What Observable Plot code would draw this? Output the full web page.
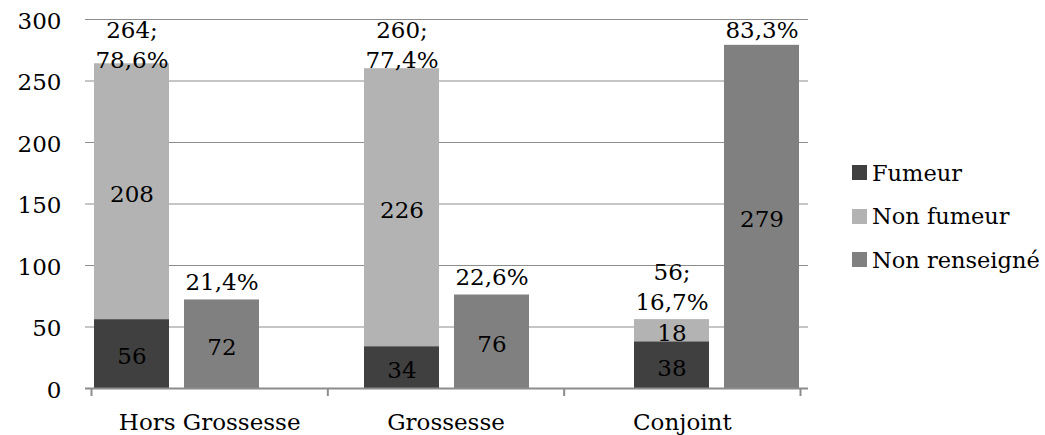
<!DOCTYPE html>
<html>
<head>
<meta charset="utf-8">
<script src="https://cdn.jsdelivr.net/npm/d3@7"></script>
<script src="https://cdn.jsdelivr.net/npm/@observablehq/plot@0.6"></script>
<style>
  html, body { margin: 0; padding: 0; background: #fff; }
  #chart { position: relative; width: 1045px; height: 435px; font-family: "DejaVu Serif", serif; }
  #chart > svg { position: absolute; left: 0; top: 0; }
  .legend { position: absolute; left: 852px; top: 151px; font: 22.5px "DejaVu Serif", serif; color: #000; }
  .legend .row { display: flex; align-items: center; height: 43.5px; }
  .legend .sw { width: 15px; height: 15px; margin-right: 5px; }
</style>
</head>
<body>
<div id="chart"></div>
<script>
// ---- data ----
const groups = ["Hors Grossesse", "Grossesse", "Conjoint"];
const series = ["Fumeur", "Non fumeur", "Non renseigné"];
const colors = ["#404040", "#b3b3b3", "#808080"];
const fumeur = [56, 34, 38];
const nonFumeur = [208, 226, 18];
const nonRenseigne = [72, 76, 279];
const totalRenseigne = [264, 260, 56];
const pctRenseigne = ["78,6%", "77,4%", "16,7%"];
const pctNonRenseigne = ["21,4%", "22,6%", "83,3%"];
const yTicks = [0, 50, 100, 150, 200, 250, 300];

// ---- derived tables ----
const slots = [];
groups.forEach((g, i) => {
  slots.push(g + "|A", g + "|B");
  if (i < groups.length - 1) slots.push("gap" + i);
});
const rows = [];
groups.forEach((g, i) => {
  rows.push({slot: g + "|A", series: series[0], value: fumeur[i]});
  rows.push({slot: g + "|A", series: series[1], value: nonFumeur[i]});
  rows.push({slot: g + "|B", series: series[2], value: nonRenseigne[i]});
});
const yMax = 300;
const topLabels = [];
groups.forEach((g, i) => {
  topLabels.push({slot: g + "|A", y: totalRenseigne[i], text: totalRenseigne[i] + ";\n" + pctRenseigne[i], lines: 2});
  topLabels.push({slot: g + "|B", y: nonRenseigne[i], text: pctNonRenseigne[i], lines: 1});
});
const fits = d => d.y + d.lines * 24 <= yMax;
const labelsAbove = topLabels.filter(fits);
const labelsClamped = topLabels.filter(d => !fits(d)).map(d => ({...d, y: yMax}));

const W = 1045, H = 435;
const font = "DejaVu Serif";
const fs = 23;

const main = Plot.plot({
  width: W, height: H,
  marginLeft: 85, marginRight: 237, marginTop: 19, marginBottom: 47,
  style: {fontFamily: font, fontSize: fs + "px", background: "transparent", color: "#000"},
  x: {type: "band", domain: slots, paddingInner: 0.171, paddingOuter: 0.083, axis: null},
  y: {domain: [0, yMax], ticks: yTicks},
  color: {domain: series, range: colors},
  marks: [
    Plot.ruleY(yTicks.filter(t => t > 0), {stroke: "#8c8c8c", strokeWidth: 1}),
    Plot.axisY({ticks: yTicks, tickSize: 0, tickPadding: 24, line: true, stroke: "#8c8c8c", strokeWidth: 2, fontSize: fs, label: null, tickFormat: d => String(d), dy: 2}),
    Plot.barY(rows, {x: "slot", y: "value", fill: "series", z: "series", order: series}),
    Plot.text(rows, Plot.stackY({x: "slot", y: "value", z: "series", text: d => String(d.value), order: series, fontSize: fs, fill: "#000", dy: 3})),
    Plot.text(labelsAbove, {x: "slot", y: "y", text: "text", lineAnchor: "bottom", lineHeight: 1.3, dy: -10, fontSize: fs, fill: "#000"}),
    Plot.text(labelsClamped, {x: "slot", y: "y", text: "text", lineAnchor: "top", lineHeight: 1.3, dy: -3, fontSize: fs, fill: "#000"}),
    Plot.ruleY([0], {stroke: "#8c8c8c", strokeWidth: 2})
  ]
});

const groupIdx = groups.map((g, i) => ({i, g}));
const overlay = Plot.plot({
  width: W, height: H,
  marginLeft: 91, marginRight: 245, marginTop: 19, marginBottom: 47,
  style: {fontFamily: font, fontSize: fs + "px", background: "transparent", color: "#000", pointerEvents: "none"},
  x: {type: "linear", domain: [0, groups.length], axis: null},
  marks: [
    Plot.axisX({ticks: d3.range(groups.length + 1), tickSize: 8, tickFormat: () => "", stroke: "#8c8c8c", strokeWidth: 2, label: null}),
    Plot.text(groupIdx, {x: d => d.i + 0.5, text: "g", frameAnchor: "bottom", lineAnchor: "bottom", dy: 41, fontSize: fs, fill: "#000"})
  ]
});

const chart = document.getElementById("chart");
chart.appendChild(main);
chart.appendChild(overlay);

const legend = document.createElement("div");
legend.className = "legend";
series.forEach((s, i) => {
  const row = document.createElement("div");
  row.className = "row";
  const sw = document.createElement("span");
  sw.className = "sw";
  sw.style.background = colors[i];
  const t = document.createElement("span");
  t.textContent = s;
  row.appendChild(sw); row.appendChild(t);
  legend.appendChild(row);
});
chart.appendChild(legend);
</script>
</body>
</html>
